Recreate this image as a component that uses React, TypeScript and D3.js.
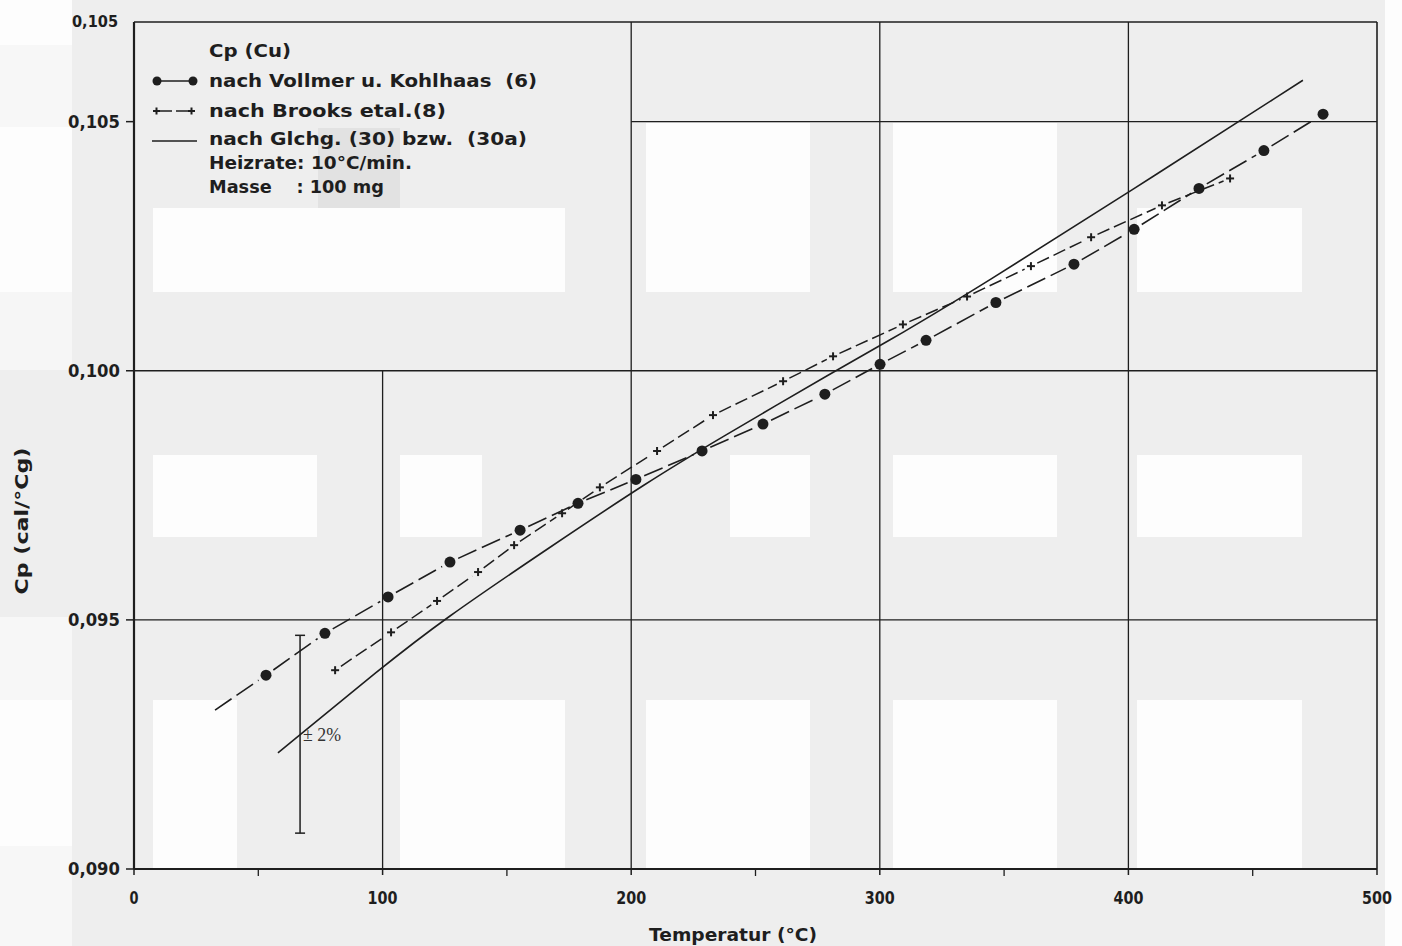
import React from "react";
import * as d3 from "d3";

// ---- data ----
const vollmerT = [53.1, 76.8, 102.2, 127.1, 155.3, 178.6, 201.9, 228.5, 253.0, 277.9, 300.1, 318.6, 346.7, 378.1, 402.3, 428.4, 454.5, 478.3];
const vollmerCp = [0.09389, 0.09473, 0.09546, 0.09616, 0.0968, 0.09734, 0.09782, 0.09839, 0.09893, 0.09953, 0.10013, 0.10061, 0.10137, 0.10214, 0.10284, 0.10366, 0.10442, 0.10515];
const vollmerLeadT = 32.6;
const vollmerLeadCp = 0.09319;

const brooksT = [80.9, 103.4, 121.9, 138.4, 152.9, 172.2, 187.4, 210.4, 232.9, 261.1, 281.2, 309.3, 335.1, 360.8, 385.0, 413.5, 440.9];
const brooksCp = [0.09399, 0.09475, 0.09538, 0.09596, 0.0965, 0.09714, 0.09766, 0.09839, 0.09911, 0.09979, 0.10029, 0.10093, 0.10149, 0.1021, 0.10268, 0.10332, 0.10386];

const eqT = [57.9, 99.8, 123.9, 167.3, 207.6, 234.5, 282.4, 308.9, 339.9, 399.4, 470.2];
const eqCp = [0.09233, 0.09405, 0.09499, 0.09646, 0.0978, 0.09861, 0.10001, 0.10075, 0.10168, 0.10356, 0.10583];

const errT = 66.8;
const errLow = 0.09072;
const errHigh = 0.09469;
const errLabel = "± 2%";

const xTicks = [0, 100, 200, 300, 400, 500];
const xMinorTicks = [50, 150, 250, 350, 450];
const yTicks = [0.09, 0.095, 0.1, 0.105];
const yTickLabels = ["0,090", "0,095", "0,100", "0,105"];
const yTopLabel = "0,105";

const legendTitle = "Cp (Cu)";
const legendLines = [
  "nach Vollmer u. Kohlhaas  (6)",
  "nach Brooks etal.(8)",
  "nach Glchg. (30) bzw.  (30a)",
  "Heizrate: 10°C/min.",
  "Masse    : 100 mg",
];
const xTitle = "Temperatur (°C)";
const yTitle = "Cp (cal/°Cg)";

// ---- layout / style ----
const W = 1402;
const H = 946;
const L = 134, R = 1377, T = 22, B = 869;
const INK = "#1e1e1e";
const FONT = "'DejaVu Sans', sans-serif";

// scan background patches
const patches: [number, number, number, number, string][] = [
  [153, 208, 412, 84, "#fdfdfd"], [646, 123, 164, 169, "#fdfdfd"], [893, 123, 164, 169, "#fdfdfd"], [1137, 208, 165, 84, "#fdfdfd"],
  [153, 455, 164, 82, "#fdfdfd"], [400, 455, 82, 82, "#fdfdfd"], [730, 455, 80, 82, "#fdfdfd"], [893, 455, 164, 82, "#fdfdfd"], [1137, 455, 165, 82, "#fdfdfd"],
  [153, 700, 84, 169, "#fdfdfd"], [400, 700, 165, 169, "#fdfdfd"], [646, 700, 164, 169, "#fdfdfd"], [893, 700, 164, 169, "#fdfdfd"], [1137, 700, 165, 169, "#fdfdfd"],
  [0, 0, 72, 45, "#fdfdfd"], [0, 45, 72, 82, "#f7f7f7"], [0, 127, 72, 165, "#fdfdfd"], [0, 292, 72, 78, "#f6f6f6"],
  [0, 617, 72, 83, "#f7f7f7"], [0, 700, 72, 146, "#fdfdfd"], [0, 846, 72, 100, "#f7f7f7"],
  [1385, 0, 17, 946, "#fdfdfd"], [318, 128, 82, 80, "#e2e2e2"],
];

export default function App() {
  const x = d3.scaleLinear().domain([0, 500]).range([L, R]);
  const y = d3.scaleLinear().domain([0.09, 0.107]).range([B, T]);

  const vPts = vollmerT.map((t, i) => [x(t), y(vollmerCp[i])] as [number, number]);
  const bPts = brooksT.map((t, i) => [x(t), y(brooksCp[i])] as [number, number]);
  const ePts = eqT.map((t, i) => [x(t), y(eqCp[i])] as [number, number]);

  const trimSeg = (a: [number, number], b: [number, number], g0: number, g1: number) => {
    const len = Math.hypot(b[0] - a[0], b[1] - a[1]);
    const ux = (b[0] - a[0]) / len, uy = (b[1] - a[1]) / len;
    return { x1: a[0] + ux * g0, y1: a[1] + uy * g0, x2: b[0] - ux * g1, y2: b[1] - uy * g1 };
  };

  const vAll: [number, number][] = [[x(vollmerLeadT), y(vollmerLeadCp)], ...vPts];
  const vSegs = vAll.slice(0, -1).map((p, i) => trimSeg(p, vAll[i + 1], i === 0 ? 0 : 9, 9));
  const bSegs = bPts.slice(0, -1).map((p, i) => trimSeg(p, bPts[i + 1], 7, 7));

  const eqLine = d3.line().curve(d3.curveBasis)(ePts) || "";

  const grid: JSX.Element[] = [];
  [100, 200, 300, 400].forEach((t) => {
    const yTop = t === 100 ? y(0.1) : T;
    grid.push(<line key={"gv" + t} x1={x(t)} x2={x(t)} y1={yTop} y2={B} stroke={INK} strokeWidth={1.3} />);
  });
  [0.095, 0.1, 0.105].forEach((v) => {
    const xStart = v === 0.105 ? x(200) : L;
    grid.push(<line key={"gh" + v} x1={xStart} x2={R} y1={y(v)} y2={y(v)} stroke={INK} strokeWidth={1.3} />);
  });

  const legendTextLengths = [328, 237, 318, 203, 175];
  const legendY = [81, 111, 139, 163, 187];

  return (
    <svg
      width={W}
      height={H}
      style={{ position: "absolute", left: 0, top: 0, display: "block" }}
      fontFamily={FONT}
    >
      <rect x={0} y={0} width={W} height={H} fill="#eeeeee" />
      {patches.map(([px, py, pw, ph, c], i) => (
        <rect key={"p" + i} x={px} y={py} width={pw} height={ph} fill={c} />
      ))}

      {grid}

      {/* frame */}
      <line x1={L} x2={L} y1={T} y2={B} stroke={INK} strokeWidth={2.2} />
      <line x1={L} x2={R} y1={B} y2={B} stroke={INK} strokeWidth={2.2} />
      <line x1={L} x2={R} y1={T} y2={T} stroke={INK} strokeWidth={1.6} />
      <line x1={R} x2={R} y1={T} y2={B} stroke={INK} strokeWidth={1.6} />

      {/* y ticks */}
      {yTicks.map((v, i) => (
        <g key={"yt" + i}>
          <line x1={L - 8} x2={L} y1={y(v)} y2={y(v)} stroke={INK} strokeWidth={1.5} />
          <text
            x={120}
            y={y(v) + 6}
            textAnchor="end"
            fontSize={17}
            fontWeight="bold"
            fill={INK}
            textLength={52}
            lengthAdjust="spacingAndGlyphs"
          >
            {yTickLabels[i]}
          </text>
        </g>
      ))}
      <text x={118} y={y(0.107) + 5} textAnchor="end" fontSize={16} fontWeight="bold" fill={INK} textLength={46} lengthAdjust="spacingAndGlyphs">
        {yTopLabel}
      </text>

      {/* x ticks */}
      {xTicks.map((t) => (
        <g key={"xt" + t}>
          <line x1={x(t)} x2={x(t)} y1={B} y2={B + 6} stroke={INK} strokeWidth={1.5} />
          <text
            x={x(t)}
            y={B + 35}
            textAnchor="middle"
            fontSize={17}
            fontWeight="bold"
            fill={INK}
            textLength={t === 0 ? 9 : 30}
            lengthAdjust="spacingAndGlyphs"
          >
            {t}
          </text>
        </g>
      ))}
      {xMinorTicks.map((t) => (
        <line key={"xm" + t} x1={x(t)} x2={x(t)} y1={B} y2={B + 7} stroke={INK} strokeWidth={1.3} />
      ))}

      {/* axis titles */}
      <text x={733} y={941} textAnchor="middle" fontSize={17} fontWeight="bold" fill={INK} textLength={168} lengthAdjust="spacingAndGlyphs">
        {xTitle}
      </text>
      <text
        transform={`translate(28, 521) rotate(-90)`}
        textAnchor="middle"
        fontSize={17}
        fontWeight="bold"
        fill={INK}
        textLength={147}
        lengthAdjust="spacingAndGlyphs"
      >
        {yTitle}
      </text>

      {/* equation line */}
      <path d={eqLine} fill="none" stroke={INK} strokeWidth={1.6} />

      {/* Brooks */}
      {bSegs.map((s, i) => (
        <line key={"bs" + i} {...s} stroke={INK} strokeWidth={1.5} strokeDasharray="13,5" />
      ))}
      {bPts.map(([px, py], i) => (
        <g key={"bp" + i} stroke={INK} strokeWidth={2}>
          <line x1={px - 4} x2={px + 4} y1={py} y2={py} />
          <line x1={px} x2={px} y1={py - 4} y2={py + 4} />
        </g>
      ))}

      {/* Vollmer */}
      {vSegs.map((s, i) => (
        <line key={"vs" + i} {...s} stroke={INK} strokeWidth={1.6} strokeDasharray="20,6" />
      ))}
      {vPts.map(([px, py], i) => (
        <circle key={"vp" + i} cx={px} cy={py} r={5.5} fill={INK} />
      ))}

      {/* error bar */}
      <g stroke={INK} strokeWidth={1.5}>
        <line x1={x(errT)} x2={x(errT)} y1={y(errHigh)} y2={y(errLow)} />
        <line x1={x(errT) - 5} x2={x(errT) + 5} y1={y(errHigh)} y2={y(errHigh)} />
        <line x1={x(errT) - 5} x2={x(errT) + 5} y1={y(errLow)} y2={y(errLow)} />
      </g>
      <text
        x={x(errT) + 3}
        y={y(0.0927) + 7}
        fontSize={19}
        fontFamily="'Liberation Serif', serif"
        fill="#333"
        textLength={38}
        lengthAdjust="spacingAndGlyphs"
      >
        {errLabel}
      </text>

      {/* legend */}
      <text x={209} y={57} fontSize={17} fontWeight="bold" fill={INK} textLength={82} lengthAdjust="spacingAndGlyphs">
        {legendTitle}
      </text>
      {legendLines.map((s, i) => (
        <text
          key={"lg" + i}
          x={209}
          y={legendY[i] + 6}
          fontSize={17}
          fontWeight="bold"
          fill={INK}
          textLength={legendTextLengths[i]}
          lengthAdjust="spacingAndGlyphs"
          style={{ whiteSpace: "pre" }}
        >
          {s}
        </text>
      ))}
      {/* legend symbols */}
      <line x1={157} x2={193} y1={81} y2={81} stroke={INK} strokeWidth={1.6} />
      <circle cx={157} cy={81} r={4.5} fill={INK} />
      <circle cx={193} cy={81} r={4.5} fill={INK} />
      <line x1={160} x2={190} y1={111} y2={111} stroke={INK} strokeWidth={1.5} strokeDasharray="12,4" />
      <g stroke={INK} strokeWidth={2}>
        <line x1={153} x2={160} y1={111} y2={111} />
        <line x1={156.5} x2={156.5} y1={107.5} y2={114.5} />
        <line x1={188} x2={195} y1={111} y2={111} />
        <line x1={191.5} x2={191.5} y1={107.5} y2={114.5} />
      </g>
      <line x1={152} x2={197} y1={141} y2={141} stroke={INK} strokeWidth={1.6} />
    </svg>
  );
}
